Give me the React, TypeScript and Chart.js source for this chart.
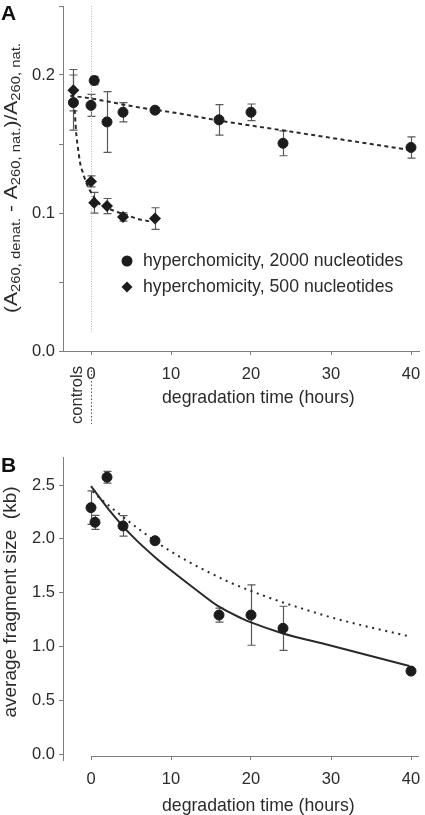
import React, { useEffect, useRef } from "react";
import { Chart, registerables } from "chart.js";
Chart.register(...registerables);

// ---------------- data ----------------
const X_MIN = -3.5;
const X_MAX = 41;
const X_TICKS = [0, 10, 20, 30, 40];

const A_Y_TICKS = [0, 0.05, 0.1, 0.15, 0.2, 0.25];
const A_Y_LABELS = ["0.0", "", "0.1", "", "0.2", ""];
const B_Y_TICKS = [0, 0.5, 1, 1.5, 2, 2.5];
const B_Y_LABELS = ["0.0", "0.5", "1.0", "1.5", "2.0", "2.5"];

const LEGEND_LABELS = ["hyperchomicity, 2000 nucleotides", "hyperchomicity, 500 nucleotides"];
const X_TITLE = "degradation time (hours)";
const B_Y_TITLE = "average fragment size  (kb)";
const CONTROLS_LABEL = "controls";
const A_Y_TITLE = [
  { t: "(A", sub: false },
  { t: "260, denat.", sub: true },
  { t: " - A", sub: false },
  { t: "260, nat.", sub: true },
  { t: ")/A", sub: false },
  { t: "260, nat.", sub: true },
];

// panel A : 2000 nucleotides (circles)
const A_T_2000 = [-2.2, 0, 0.4, 2, 4, 8, 16, 20, 24, 40];
const A_V_2000 = [0.18, 0.178, 0.196, 0.166, 0.173, 0.1745, 0.1675, 0.173, 0.1505, 0.1475];
const A_E_2000 = [0.02, 0.008, 0.003, 0.022, 0.007, 0.002, 0.011, 0.006, 0.009, 0.0077];
// panel A : 500 nucleotides (diamonds)
const A_T_500 = [-2.2, 0, 0.4, 2, 4, 8];
const A_V_500 = [0.189, 0.1229, 0.1074, 0.105, 0.0971, 0.096];
const A_E_500 = [0.015, 0.004, 0.0075, 0.0055, 0.003, 0.0078];
// panel A fits
const FIT_2000_T = [-2.6, 0, 5.5, 10.5, 16, 24.4, 40];
const FIT_2000_V = [0.185, 0.183, 0.177, 0.1726, 0.167, 0.1595, 0.1455];
const FIT_500_T = [-2.1, -1.85, -1.65, -1.35, -1.0, -0.6, 0, 0.8, 2.7, 4.3, 6.3, 7.4];
const FIT_500_V = [0.18, 0.158, 0.148, 0.136, 0.129, 0.122, 0.115, 0.108, 0.102, 0.0988, 0.095, 0.094];

// panel B : fragment size
const B_T = [0, 0.5, 2, 4, 8, 16, 20, 24, 40];
const B_V = [2.29, 2.154, 2.572, 2.12, 1.983, 1.293, 1.293, 1.17, 0.773];
const B_E = [0.155, 0.065, 0.055, 0.095, 0.02, 0.065, 0.28, 0.205, 0.01];
const FIT_SOLID_T = [0, 2.25, 5.1, 8, 10.9, 13, 15.8, 18.9, 20, 23.9, 29.7, 39.8];
const FIT_SOLID_V = [2.49, 2.27, 2.03, 1.83, 1.655, 1.535, 1.38, 1.26, 1.225, 1.125, 1.015, 0.82];
const FIT_DOT_T = [0.2, 1, 2.5, 4.5, 6, 9.2, 12.5, 14.2, 17.4, 21.5, 24, 30.6, 39.6];
const FIT_DOT_V = [2.44, 2.385, 2.293, 2.175, 2.09, 1.92, 1.775, 1.71, 1.595, 1.475, 1.41, 1.26, 1.098];

// ---------------- style ----------------
const FONT = "'Liberation Sans', Arial, Helvetica, sans-serif";
const AXIS = "#7d7d7d";
const TEXT = "#2b2b2b";
const MARK = "#1c1c1c";
const ERR = "#5a5a5a";
const FIT = "#2a2a2a";

const pts = (xs: number[], ys: number[]) => xs.map((x, i) => ({ x, y: ys[i] }));

function drawRotatedRich(
  ctx: CanvasRenderingContext2D,
  segs: { t: string; sub: boolean }[],
  baseX: number,
  cy: number,
  mainPx: number,
  subPx: number,
  subShift: number,
  targetLen: number
) {
  ctx.save();
  const widths = segs.map((s) => {
    ctx.font = `${s.sub ? subPx : mainPx}px ${FONT}`;
    return ctx.measureText(s.t).width;
  });
  const total = widths.reduce((a, b) => a + b, 0);
  ctx.translate(baseX, cy);
  ctx.rotate(-Math.PI / 2);
  ctx.scale(targetLen / total, 1);
  ctx.fillStyle = TEXT;
  ctx.textAlign = "left";
  ctx.textBaseline = "alphabetic";
  let x = -total / 2;
  segs.forEach((s, i) => {
    ctx.font = `${s.sub ? subPx : mainPx}px ${FONT}`;
    ctx.fillText(s.t, x, s.sub ? subShift : 0);
    x += widths[i];
  });
  ctx.restore();
}

function errorBars(series: { t: number[]; v: number[]; e: number[] }[]) {
  return {
    id: "errorBars",
    beforeDatasetsDraw(chart: any) {
      const { ctx, scales } = chart;
      const xs = scales.x;
      const ys = scales.y;
      ctx.save();
      ctx.strokeStyle = ERR;
      ctx.lineWidth = 1.2;
      series.forEach((s) => {
        s.t.forEach((t, i) => {
          const px = Math.round(xs.getPixelForValue(t)) + 0.5;
          const top = ys.getPixelForValue(s.v[i] + s.e[i]);
          const bot = ys.getPixelForValue(s.v[i] - s.e[i]);
          ctx.beginPath();
          ctx.moveTo(px, top);
          ctx.lineTo(px, bot);
          ctx.moveTo(px - 4, top);
          ctx.lineTo(px + 4, top);
          ctx.moveTo(px - 4, bot);
          ctx.lineTo(px + 4, bot);
          ctx.stroke();
        });
      });
      ctx.restore();
    },
  };
}

function xScale(height: number, hideBorder: boolean) {
  return {
    type: "linear",
    min: X_MIN,
    max: X_MAX,
    afterBuildTicks: (s: any) => {
      s.ticks = X_TICKS.map((v) => ({ value: v }));
    },
    afterFit: (s: any) => {
      s.height = height;
      s.paddingLeft = 0;
      s.paddingRight = 0;
    },
    grid: { display: true, drawOnChartArea: false, drawTicks: true, tickLength: 4, color: AXIS, lineWidth: 1 },
    border: { display: !hideBorder, color: AXIS, width: 1 },
    ticks: {
      color: TEXT,
      font: { family: FONT, size: 16.5 },
      padding: 10,
      maxRotation: 0,
      autoSkip: false,
      callback: (v: any) => String(v),
    },
  };
}

function yScale(min: number, max: number, ticks: number[], labels: string[]) {
  return {
    type: "linear",
    min,
    max,
    afterBuildTicks: (s: any) => {
      s.ticks = ticks.map((v) => ({ value: v }));
    },
    afterFit: (s: any) => {
      s.width = 63;
      s.paddingTop = 0;
      s.paddingBottom = 0;
    },
    grid: { display: true, drawOnChartArea: false, drawTicks: true, tickLength: 4, color: AXIS, lineWidth: 1 },
    border: { display: true, color: AXIS, width: 1 },
    ticks: {
      color: TEXT,
      font: { family: FONT, size: 16.5 },
      padding: 4,
      autoSkip: false,
      callback: (v: any) => {
        const i = ticks.findIndex((t) => Math.abs(t - v) < 1e-9);
        return i >= 0 ? labels[i] : "";
      },
    },
  };
}

function drawLegendMarker(ctx: CanvasRenderingContext2D, kind: string, x: number, y: number) {
  ctx.fillStyle = MARK;
  ctx.beginPath();
  if (kind === "circle") {
    ctx.arc(x, y, 5.5, 0, Math.PI * 2);
  } else {
    ctx.moveTo(x, y - 5.5);
    ctx.lineTo(x + 5.5, y);
    ctx.lineTo(x, y + 5.5);
    ctx.lineTo(x - 5.5, y);
    ctx.closePath();
  }
  ctx.fill();
}

export default function App() {
  const refA = useRef<HTMLCanvasElement>(null);
  const refB = useRef<HTMLCanvasElement>(null);

  useEffect(() => {
    document.body.style.margin = "0";

    const decoA = {
      id: "decoA",
      beforeDatasetsDraw(chart: any) {
        const { ctx, scales, chartArea } = chart;
        const x0 = Math.round(scales.x.getPixelForValue(0)) + 0.5;
        ctx.save();
        ctx.strokeStyle = "#b5b5b5";
        ctx.lineWidth = 1;
        ctx.setLineDash([1, 1.5]);
        ctx.beginPath();
        ctx.moveTo(x0, chartArea.top);
        ctx.lineTo(x0, scales.y.getPixelForValue(0.014));
        ctx.stroke();
        ctx.restore();
      },
      afterDraw(chart: any) {
        const { ctx, scales } = chart;
        const x0 = Math.round(scales.x.getPixelForValue(0)) + 0.5;
        ctx.save();
        ctx.strokeStyle = "#555";
        ctx.lineWidth = 1;
        ctx.setLineDash([1.5, 2]);
        ctx.beginPath();
        ctx.moveTo(x0, 367);
        ctx.lineTo(x0, 424);
        ctx.stroke();
        ctx.setLineDash([]);
        ctx.fillStyle = TEXT;
        ctx.font = `16.5px ${FONT}`;
        ctx.save();
        ctx.translate(77, 395);
        ctx.rotate(-Math.PI / 2);
        ctx.textAlign = "center";
        ctx.textBaseline = "middle";
        ctx.fillText(CONTROLS_LABEL, 0, 0);
        ctx.restore();
        ctx.font = `17.7px ${FONT}`;
        ctx.textAlign = "center";
        ctx.textBaseline = "middle";
        ctx.fillText(X_TITLE, 258.3, 398.5);
        drawRotatedRich(ctx, A_Y_TITLE, 16.7, 178, 17.7, 12.5, 3, 270);
        ctx.font = `17.7px ${FONT}`;
        ctx.textAlign = "left";
        ctx.textBaseline = "middle";
        drawLegendMarker(ctx, "circle", 127, 261);
        drawLegendMarker(ctx, "diamond", 127, 287);
        ctx.fillStyle = TEXT;
        ctx.fillText(LEGEND_LABELS[0], 143, 261.5);
        ctx.fillText(LEGEND_LABELS[1], 143, 287.5);
        ctx.font = `bold 21px ${FONT}`;
        ctx.textAlign = "left";
        ctx.textBaseline = "alphabetic";
        ctx.fillStyle = "#111";
        ctx.fillText("A", 1, 20);
        ctx.restore();
      },
    };

    const decoB = {
      id: "decoB",
      afterDraw(chart: any) {
        const { ctx, scales, chartArea } = chart;
        const x0 = scales.x.getPixelForValue(0);
        ctx.save();
        ctx.strokeStyle = AXIS;
        ctx.lineWidth = 1;
        const yb = Math.round(chartArea.bottom) + 0.5;
        ctx.beginPath();
        ctx.moveTo(x0, yb);
        ctx.lineTo(chartArea.right, yb);
        const xl = Math.round(chartArea.left) + 0.5;
        ctx.moveTo(xl, chartArea.bottom);
        ctx.lineTo(xl, chartArea.bottom + 5);
        ctx.stroke();
        ctx.fillStyle = TEXT;
        ctx.font = `17.7px ${FONT}`;
        ctx.textAlign = "center";
        ctx.textBaseline = "middle";
        ctx.fillText(X_TITLE, 258.3, 375.8);
        drawRotatedRich(ctx, [{ t: B_Y_TITLE, sub: false }], 16, 172, 17.7, 12, 0, 231);
        ctx.font = `bold 21px ${FONT}`;
        ctx.textAlign = "left";
        ctx.textBaseline = "alphabetic";
        ctx.fillStyle = "#111";
        ctx.fillText("B", 1, 42);
        ctx.restore();
      },
    };

    const common = {
      responsive: false,
      maintainAspectRatio: false,
      animation: false as const,
      events: [] as any[],
      plugins: { legend: { display: false }, tooltip: { enabled: false } },
    };

    const chartA = new Chart(refA.current!, {
      type: "scatter",
      data: {
        datasets: [
          {
            label: LEGEND_LABELS[0],
            data: pts(A_T_2000, A_V_2000),
            pointStyle: "circle",
            pointRadius: 5,
            pointBorderWidth: 1,
            backgroundColor: MARK,
            borderColor: MARK,
            showLine: false,
          },
          {
            label: LEGEND_LABELS[1],
            data: pts(A_T_500, A_V_500),
            pointStyle: "rectRot",
            pointRadius: 6,
            pointBorderWidth: 0,
            backgroundColor: MARK,
            borderColor: MARK,
            showLine: false,
          },
          {
            label: "fit 2000",
            data: pts(FIT_2000_T, FIT_2000_V),
            showLine: true,
            pointRadius: 0,
            borderColor: FIT,
            borderWidth: 2,
            borderDash: [4, 3.4],
            tension: 0.4,
            cubicInterpolationMode: "monotone",
          },
          {
            label: "fit 500",
            data: pts(FIT_500_T, FIT_500_V),
            showLine: true,
            pointRadius: 0,
            borderColor: FIT,
            borderWidth: 2,
            borderDash: [4, 3.4],
            tension: 0.4,
            cubicInterpolationMode: "monotone",
          },
        ] as any,
      },
      options: {
        ...common,
        layout: { padding: { top: 1, left: 0, right: 0, bottom: 0 } },
        scales: {
          x: xScale(430 - 351, false) as any,
          y: yScale(0, 0.25, A_Y_TICKS, A_Y_LABELS) as any,
        },
      } as any,
      plugins: [errorBars([{ t: A_T_2000, v: A_V_2000, e: A_E_2000 }, { t: A_T_500, v: A_V_500, e: A_E_500 }]), decoA] as any,
    });

    const chartB = new Chart(refB.current!, {
      type: "scatter",
      data: {
        datasets: [
          {
            label: "fragment size",
            data: pts(B_T, B_V),
            pointStyle: "circle",
            pointRadius: 5,
            pointBorderWidth: 1,
            backgroundColor: MARK,
            borderColor: MARK,
            showLine: false,
          },
          {
            label: "fit solid",
            data: pts(FIT_SOLID_T, FIT_SOLID_V),
            showLine: true,
            pointRadius: 0,
            borderColor: FIT,
            borderWidth: 2,
            tension: 0.4,
            cubicInterpolationMode: "monotone",
          },
          {
            label: "fit dotted",
            data: pts(FIT_DOT_T, FIT_DOT_V),
            showLine: true,
            pointRadius: 0,
            borderColor: FIT,
            borderWidth: 2,
            borderDash: [2, 4.7],
            tension: 0.4,
            cubicInterpolationMode: "monotone",
          },
        ] as any,
      },
      options: {
        ...common,
        layout: { padding: { top: 27, left: 0, right: 0, bottom: 0 } },
        scales: {
          x: xScale(385 - 326, true) as any,
          y: yScale(-0.015, 2.76, B_Y_TICKS, B_Y_LABELS) as any,
        },
      } as any,
      plugins: [errorBars([{ t: B_T, v: B_V, e: B_E }]), decoB] as any,
    });

    return () => {
      chartA.destroy();
      chartB.destroy();
    };
  }, []);

  return (
    <div style={{ position: "absolute", left: 0, top: 0, width: 425, height: 815, background: "#fff" }}>
      <canvas ref={refA} width={425} height={430} style={{ display: "block", width: 425, height: 430 }} />
      <canvas ref={refB} width={425} height={385} style={{ display: "block", width: 425, height: 385 }} />
    </div>
  );
}
